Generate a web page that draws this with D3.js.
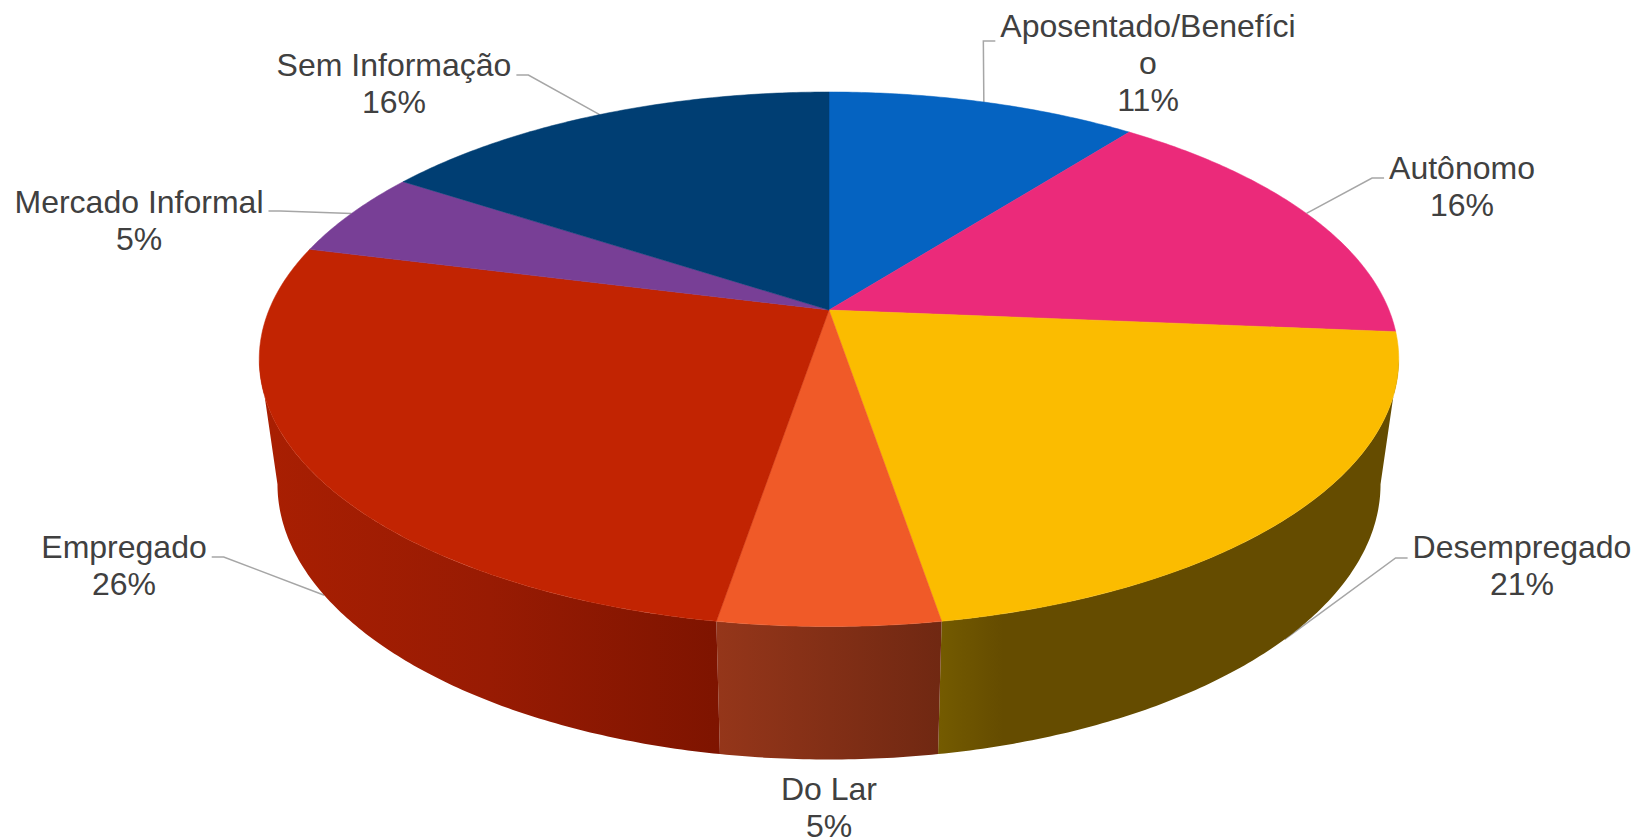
<!DOCTYPE html>
<html>
<head>
<meta charset="utf-8">
<style>
  html, body { margin: 0; padding: 0; background: #fff; }
  svg { display: block; }
  text { font-family: "Liberation Sans", Arial, sans-serif; font-size: 32px; fill: #404040; text-anchor: middle; }
</style>
</head>
<body>
<div class="chart"></div>
<script src="https://cdn.jsdelivr.net/npm/d3@7"></script>
<script>
//Data
var categories = ["Aposentado/Benefício", "Autônomo", "Desempregado", "Do Lar", "Empregado", "Mercado Informal", "Sem Informação"];
var counts = [2, 3, 4, 1, 5, 1, 3];

//Slice colours
var topColors = ["#0563c1", "#eb2a7a", "#fbbc00", "#f05a28", "#c22402", "#783f96", "#003e73"];
var sideColors = [
    [[0, "#03386e"]],
    [[0, "#861846"]],
    [[0, "#745b00"], [0.14, "#654c00"], [1, "#654c00"]],
    [[0, "#95361a"], [1, "#702812"]],
    [[0, "#a91f02"], [0.5, "#981b03"], [1, "#7e1400"]],
    [[0, "#442456"]],
    [[0, "#002342"]]
];

//Label layout: centre x, first baseline, y of the leader start
var labelX = [1148, 1462, 1522, 829, 124, 139, 394];
var labelY = [37, 179, 558, 800, 558, 213, 76];
var leaderY = [41, 178, 558, null, 557, 211, 75];
var leaderSide = [-1, -1, -1, 0, 1, 1, 1];
var lineHeight = 36.8;
var maxLine = 19;

//Width and height
var w = 1637;
var h = 839;

//Pie geometry: a circle seen in perspective
var cx = 829;
var apexY = 310;
var radiusX = 560;
var radiusY = 258.2;
var persp = 0.1843;
var floorApexY = 433.5;
var floorScaleX = 0.968;
var floorScaleY = 1.03;

//Only this part of the rim faces the viewer
var rimStart = Math.acos(-persp);
var rimEnd = 2 * Math.PI - rimStart;

function project(a, floor) {
    var u = Math.sin(a), v = -Math.cos(a);
    var d = 1 - persp * v;
    var x = radiusX * u / d, y = radiusY * v / d;
    if (floor) return [cx + floorScaleX * x, floorApexY + floorScaleY * y];
    return [cx + x, apexY + y];
}

function arcPoints(a0, a1, floor) {
    var n = Math.max(2, Math.ceil(Math.abs(a1 - a0) / 0.01));
    return d3.range(n + 1).map(i => project(a0 + (a1 - a0) * i / n, floor));
}

var total = d3.sum(counts);
var percent = d3.format(".0%");
var line = d3.line();

var slices = d3.pie().sort(null).value(d => d)(counts)
    .map((s, i) => ({...s, i: i, mid: (s.startAngle + s.endAngle) / 2}));

//Visible part of each slice's rim
var rimSlices = slices
    .map(s => ({...s, a0: Math.max(s.startAngle, rimStart), a1: Math.min(s.endAngle, rimEnd)}))
    .filter(s => s.a1 > s.a0);

var color = d3.scaleOrdinal().domain(categories).range(topColors);

//Create SVG element
var svg = d3.select(".chart")
    .append("svg")
    .attr("width", w)
    .attr("height", h);

//Gradients for the rim, one per slice
var defs = svg.append("defs");
rimSlices.forEach(s => {
    var rim = arcPoints(s.a0, s.a1, false).concat(arcPoints(s.a0, s.a1, true));
    var ext = d3.extent(rim, p => p[0]);
    defs.append("linearGradient")
        .attr("id", "side" + s.i)
        .attr("gradientUnits", "userSpaceOnUse")
        .attr("x1", ext[0]).attr("x2", ext[1])
        .attr("y1", 0).attr("y2", 0)
        .selectAll("stop")
        .data(sideColors[s.i])
        .join("stop")
        .attr("offset", d => d[0])
        .attr("stop-color", d => d[1]);
});

//Leader lines go under the pie
function leaderPoints(s) {
    var i = s.i;
    var hidden = Math.cos(s.mid) < 0;
    var end = project(s.mid, hidden);
    var width = textWidth(wrap(categories[i])[0]);
    var start = labelX[i] + leaderSide[i] * (width / 2 + 5);
    var elbow = start + leaderSide[i] * 12;
    return [[start, leaderY[i]], [elbow, leaderY[i]], end];
}

function wrap(name) {
    return name.length > maxLine ? [name.slice(0, maxLine), name.slice(maxLine)] : [name];
}

function textWidth(str) {
    var t = svg.append("text").text(str);
    var len = t.node().getComputedTextLength();
    t.remove();
    return len;
}

svg.append("g")
    .selectAll("path")
    .data(slices.filter(s => leaderSide[s.i] !== 0))
    .join("path")
    .attr("d", d => line(leaderPoints(d)))
    .attr("fill", "none")
    .attr("stroke", "#a6a6a6")
    .attr("stroke-width", 1.5);

//Draw the rim
svg.append("g")
    .selectAll("path")
    .data(rimSlices)
    .join("path")
    .attr("d", d => line(arcPoints(d.a0, d.a1, false)
        .concat(arcPoints(d.a1, d.a0, true))) + "Z")
    .attr("fill", d => "url(#side" + d.i + ")");

//Draw the top face
svg.append("g")
    .selectAll("path")
    .data(slices)
    .join("path")
    .attr("d", d => line([[cx, apexY]].concat(arcPoints(d.startAngle, d.endAngle, false))) + "Z")
    .attr("fill", d => color(categories[d.i]))
    .attr("stroke", d => color(categories[d.i]))
    .attr("stroke-width", 0.5);

//Labels
var labels = svg.append("g")
    .selectAll("text")
    .data(slices)
    .join("text")
    .attr("x", d => labelX[d.i])
    .attr("y", d => labelY[d.i]);

labels.selectAll("tspan")
    .data(d => wrap(categories[d.i]).concat(percent(counts[d.i] / total)).map(t => ({t: t, i: d.i})))
    .join("tspan")
    .attr("x", d => labelX[d.i])
    .attr("dy", (d, j) => j === 0 ? 0 : lineHeight)
    .text(d => d.t);
</script>
</body>
</html>
